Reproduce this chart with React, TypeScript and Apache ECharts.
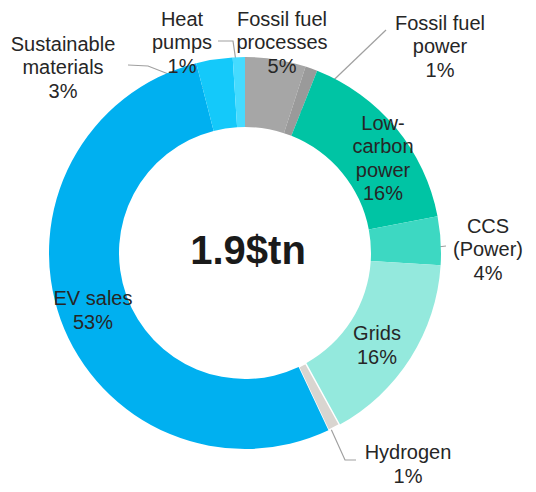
import React, { useEffect, useRef } from "react";
import * as echarts from "echarts";

const categories = [
  "Fossil fuel\nprocesses",
  "Fossil fuel\npower",
  "Low-\ncarbon\npower",
  "CCS\n(Power)",
  "Grids",
  "Hydrogen",
  "EV sales",
  "Sustainable\nmaterials",
  "Heat\npumps",
];
const shares = [5, 1, 16, 4, 16, 1, 53, 3, 1];
const colors = [
  "#A6A6A6",
  "#9A9A9A",
  "#00C4A4",
  "#3DD8C2",
  "#94E9DD",
  "#D9D5D0",
  "#00B0F0",
  "#14C9FA",
  "#45DBFF",
];
const TOTAL_LABEL = "1.9$tn";

// label anchor (center) and leader-line points per slice
const labelPos: Record<number, { x: number; y: number; line?: number[][] }> = {
  0: { x: 282, y: 42 },
  1: { x: 440, y: 46, line: [[386, 30], [294, 118]] },
  2: { x: 383, y: 158 },
  3: { x: 488, y: 249, line: [[446, 246], [405, 251]] },
  4: { x: 377, y: 345 },
  5: { x: 408, y: 464, line: [[356, 460], [345, 460], [317, 398]] },
  6: { x: 93, y: 310 },
  7: { x: 63, y: 67, line: [[128, 65], [148, 66], [222, 95]] },
  8: { x: 182, y: 42, line: [[218, 41], [233, 41], [241, 96]] },
};

export default function App() {
  const ref = useRef<HTMLDivElement>(null);
  useEffect(() => {
    if (!ref.current) return;
    const chart = echarts.init(ref.current, undefined, { renderer: "svg" });
    const data = categories.map((name, i) => ({
      name,
      value: shares[i],
      itemStyle:
        i === 5
          ? { color: colors[i], borderColor: "#ffffff", borderWidth: 1.5 }
          : { color: colors[i] },
      labelLine: { show: !!labelPos[i].line },
    }));
    chart.setOption({
      animation: false,
      backgroundColor: "#ffffff",
      graphic: [
        {
          type: "text",
          x: 248,
          y: 250,
          style: {
            text: TOTAL_LABEL,
            fontSize: 40,
            fontWeight: "bold",
            fontFamily: "Liberation Sans, Arial, sans-serif",
            fill: "#1a1a1a",
            textAlign: "center",
            textVerticalAlign: "middle",
          },
        },
      ],
      series: [
        {
          type: "pie",
          center: [245, 253],
          radius: [126, 196],
          startAngle: 90,
          clockwise: true,
          avoidLabelOverlap: false,
          data,
          label: {
            show: true,
            position: "outside",
            formatter: (p: any) => `${p.name}\n${p.value}%`,
            fontSize: 20,
            lineHeight: 23.5,
            color: "#262626",
            fontFamily: "Liberation Sans, Arial, sans-serif",
            align: "center",
          },
          labelLine: {
            show: true,
            lineStyle: { color: "#A0A0A0", width: 1.2 },
          },
          labelLayout: (params: any) => {
            const p = labelPos[params.dataIndex];
            const out: any = {
              x: p.x,
              y: p.y,
              align: "center",
              verticalAlign: "middle",
            };
            if (p.line) out.labelLinePoints = p.line;
            return out;
          },
          emphasis: { disabled: true },
        },
      ],
    });
    return () => chart.dispose();
  }, []);
  return (
    <div
      ref={ref}
      style={{ position: "fixed", left: 0, top: 0, width: 536, height: 492 }}
    />
  );
}
